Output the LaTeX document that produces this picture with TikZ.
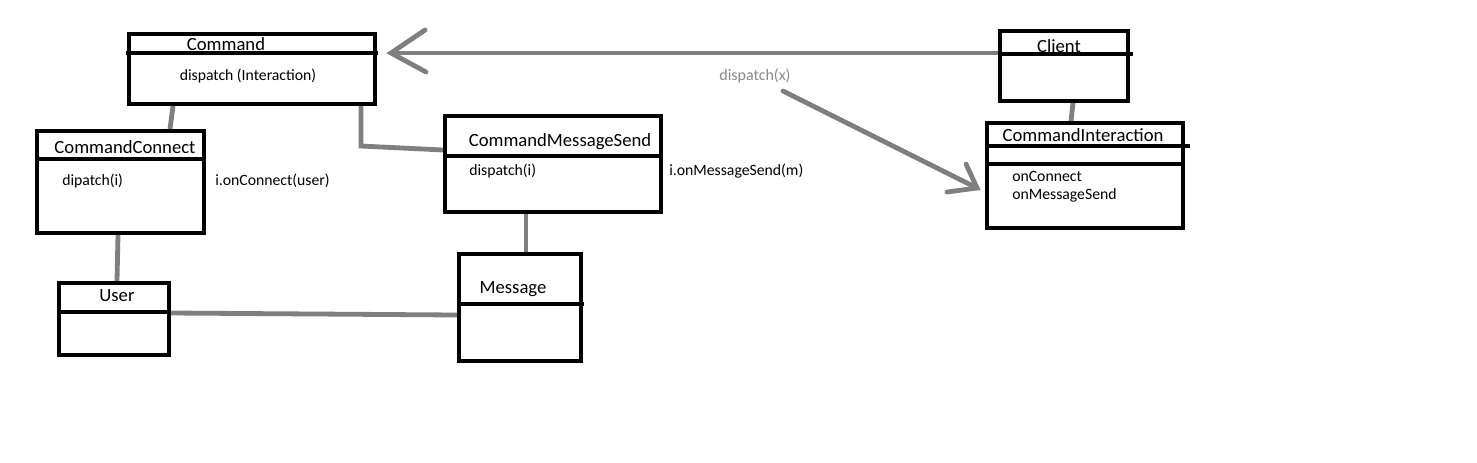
\documentclass[tikz,border=0pt]{standalone}
\usepackage{fontspec}
\setmainfont{Carlito}
\usetikzlibrary{fit}
\definecolor{conngray}{HTML}{7F7F7F}
\definecolor{labgray}{HTML}{8A8A8A}
\tikzset{
  box/.style={draw=black, line width=3pt, inner sep=0pt},
  divider/.style={draw=black, line width=3pt},
  conn/.style={draw=conngray, line width=3.6pt},
  title/.style={font=\fontsize{14}{16}\selectfont, inner sep=0pt, text=black},
  body/.style={font=\fontsize{11.8}{14}\selectfont, inner sep=0pt, text=black},
  glabel/.style={font=\fontsize{12}{14}\selectfont, inner sep=0pt, text=labgray}
}
\begin{document}
\begin{tikzpicture}[x=0.75pt,y=-0.75pt]
\useasboundingbox[fill=white] (0,0) rectangle (1477,462);

% boxes
\node[box, fit={(129,34) (375,104)}] (cmd) {};
\node[box, fit={(37,131) (204,233)}] (cc) {};
\node[box, fit={(445,116) (661,212)}] (cms) {};
\node[box, fit={(59,283) (169,355)}] (user) {};
\node[box, fit={(459,254) (581,361)}] (msg) {};
\node[box, fit={(1000,31) (1128,101)}] (cli) {};
\node[box, fit={(987,123) (1183,228)}] (ci) {};

% dividers
\draw[divider] (126,53) -- (378,53);
\draw[divider] (37,159) -- (204,159);
\draw[divider] (445,156) -- (661,156);
\draw[divider] (57,312) -- (169,312);
\draw[divider] (457,304) -- (584,304);
\draw[divider] (1000,54) -- (1133,54);
\draw[divider] (987,146) -- (1190,146);
\draw[divider] (987,164) -- (1183,164);

% texts
\node[title] (tcmd) at (226,44) {Command};
\node[body] (dcmd) at (248,76) {dispatch (Interaction)};
\node[title] (tcc) at (125,147) {CommandConnect};
\node[body, anchor=west] (dcc) at (62,181) {dipatch(i)};
\node[body, anchor=west] (ocon) at (215,181) {i.onConnect(user)};
\node[title] (tcms) at (560,142) {CommandMessageSend};
\node[body, anchor=west] (dcms) at (469,171) {dispatch(i)};
\node[body, anchor=west] (omsg) at (669,171) {i.onMessageSend(m)};
\node[title] (tuser) at (117,296) {User};
\node[title] (tmsg) at (513,289) {Message};
\node[title] (tcli) at (1059,46) {Client};
\node[title] (tci) at (1083,135) {CommandInteraction};
\node[body, anchor=west] (oc1) at (1012,176) {onConnect};
\node[body, anchor=west] (oc2) at (1012,195) {onMessageSend};
\node[glabel] (dx) at (755,76) {dispatch(x)};

% connectors
\draw[conn] (cmd.south -| 173,0) -- (cc.north -| 170,0);
\draw[conn] (cmd.south -| 361,0) -- (361,146) -- (cms.west |- 0,150);
\draw[conn] (cc.south -| 118,0) -- (user.north -| 117,0);
\draw[conn] (cms.south -| 526,0) -- (msg.north -| 526,0);
\draw[conn] (user.east |- 0,313) -- (315,314) -- (msg.west |- 0,315);
\draw[conn] (cli.south -| 1073,0) -- (ci.north -| 1071,0);

% arrow Client -> Command
\coordinate (tip1) at (391,53);
\draw[conn] (cli.west |- 0,53) -- (tip1);
\draw[conn, line cap=round] (425,30) -- (tip1) -- (426,72);

% arrow dispatch(x) -> CommandInteraction
\coordinate (s2) at (783,91);
\coordinate (tip2) at (977,188);
\draw[conn, line cap=round] (s2) -- (tip2);
\draw[conn, line cap=round] (966,164) -- (tip2) -- (947,192);
\end{tikzpicture}
\end{document}
